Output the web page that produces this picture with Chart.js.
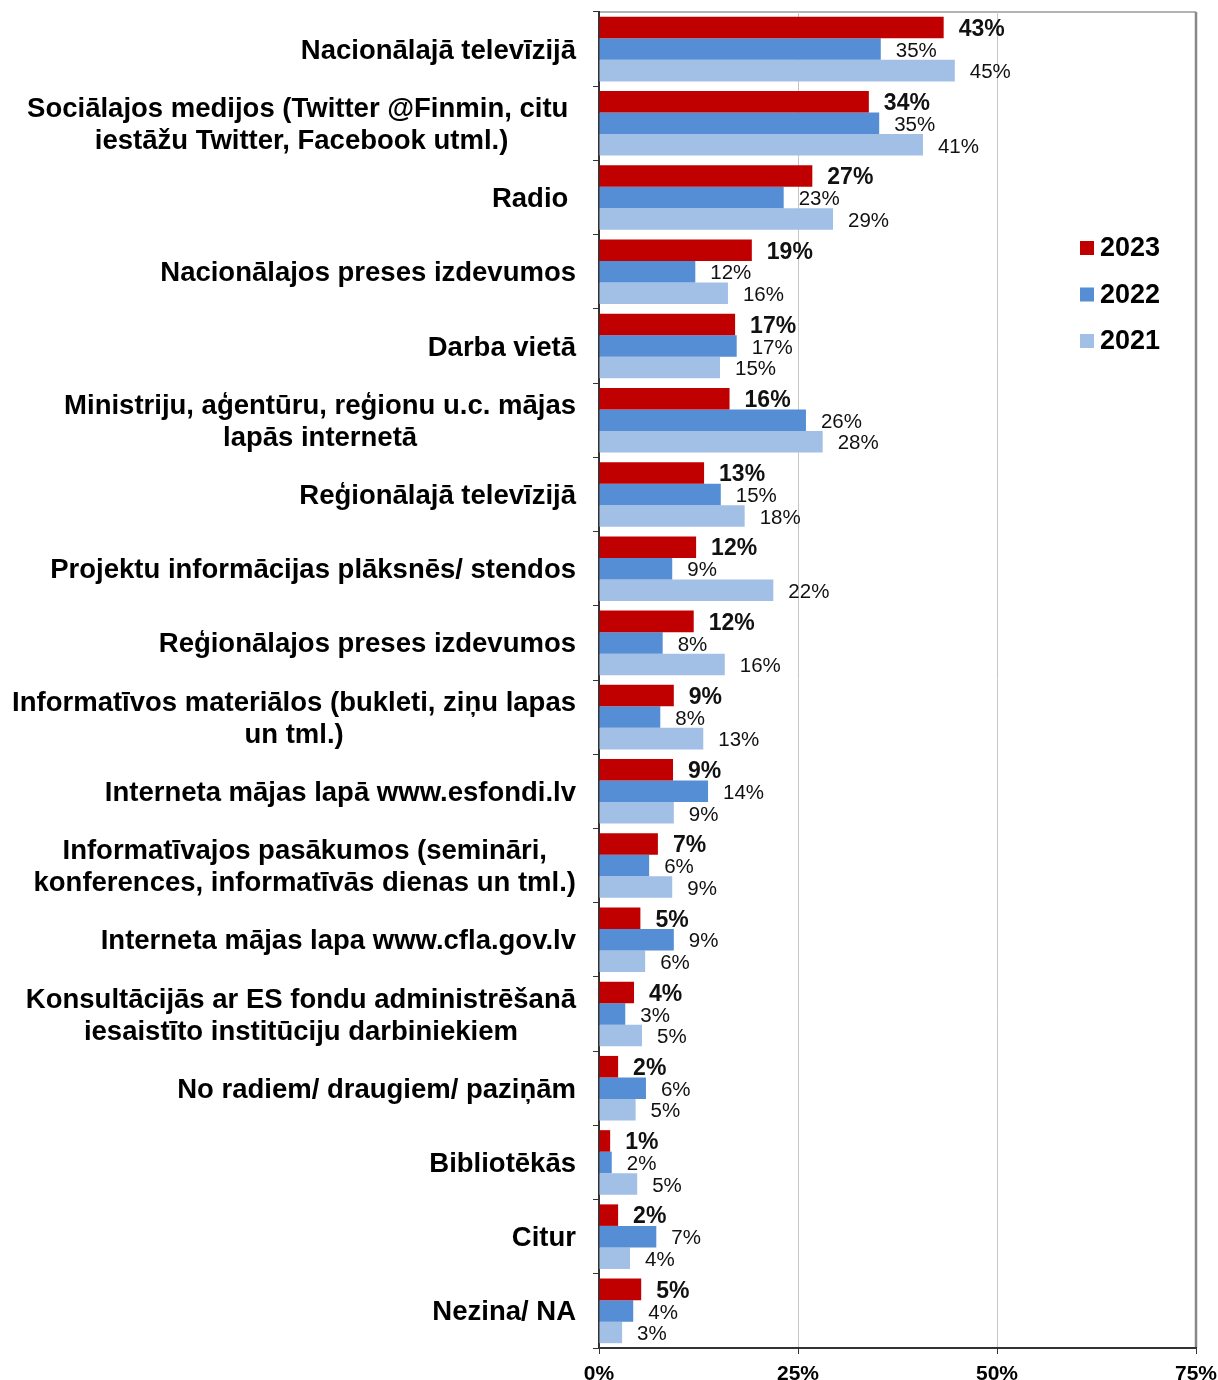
<!DOCTYPE html>
<html>
<head>
<meta charset="utf-8">
<script src="https://cdn.jsdelivr.net/npm/chart.js@4/dist/chart.umd.min.js"></script>
<style>
  html, body { margin: 0; padding: 0; background: #fff; }
  #wrap { width: 1218px; height: 1380px; }
</style>
</head>
<body>
<div id="wrap"><canvas id="chart" width="1218" height="1380"></canvas></div>
<script>
// categories (multi-line ones as arrays)
const categories = [
    'Nacionālajā televīzijā',
    ['Sociālajos medijos (Twitter @Finmin, citu ', 'iestāžu Twitter, Facebook utml.)'],
    'Radio ',
    'Nacionālajos preses izdevumos',
    'Darba vietā',
    ['Ministriju, aģentūru, reģionu u.c. mājas', 'lapās internetā'],
    'Reģionālajā televīzijā',
    'Projektu informācijas plāksnēs/ stendos',
    'Reģionālajos preses izdevumos',
    ['Informatīvos materiālos (bukleti, ziņu lapas', 'un tml.)'],
    'Interneta mājas lapā www.esfondi.lv',
    ['Informatīvajos pasākumos (semināri,', 'konferences, informatīvās dienas un tml.)'],
    'Interneta mājas lapa www.cfla.gov.lv',
    ['Konsultācijās ar ES fondu administrēšanā', 'iesaistīto institūciju darbiniekiem'],
    'No radiem/ draugiem/ paziņām',
    'Bibliotēkās',
    'Citur',
    'Nezina/ NA'
];

const values2023 = [43.3, 33.9, 26.8, 19.2, 17.1, 16.4, 13.2, 12.2, 11.9, 9.4, 9.3, 7.4, 5.2, 4.4, 2.4, 1.4, 2.4, 5.3];
const values2022 = [35.4, 35.2, 23.2, 12.1, 17.3, 26.0, 15.3, 9.2, 8.0, 7.7, 13.7, 6.3, 9.4, 3.3, 5.9, 1.6, 7.2, 4.3];
const values2021 = [44.7, 40.7, 29.4, 16.2, 15.2, 28.1, 18.3, 21.9, 15.8, 13.1, 9.4, 9.2, 5.8, 5.4, 4.6, 4.8, 3.9, 2.9];

const seriesNames = ['2023', '2022', '2021'];
const xTicks = [0, 25, 50, 75];

const FONT = "'Liberation Sans', Arial, sans-serif";

// data labels to the right of every bar; 2023 in bold
const barLabels = {
    id: 'barLabels',
    afterDatasetsDraw(chart) {
        const ctx = chart.ctx;
        ctx.save();
        ctx.fillStyle = '#111';
        ctx.textAlign = 'left';
        ctx.textBaseline = 'middle';
        chart.data.datasets.forEach((ds, di) => {
            const meta = chart.getDatasetMeta(di);
            ctx.font = di === 0 ? `bold 23px ${FONT}` : `20.5px ${FONT}`;
            meta.data.forEach((bar, i) => {
                ctx.fillText(Math.round(ds.data[i]) + '%', bar.x + 15, bar.y + 2);
            });
        });
        ctx.restore();
    }
};

// category labels, lines centered within their block, block right-aligned to the axis
const catLabels = {
    id: 'catLabels',
    afterDraw(chart) {
        const ctx = chart.ctx;
        const y = chart.scales.y;
        const right = chart.chartArea.left - 23;
        ctx.save();
        ctx.font = `bold 27.5px ${FONT}`;
        ctx.fillStyle = '#000';
        ctx.textAlign = 'center';
        ctx.textBaseline = 'middle';
        categories.forEach((c, i) => {
            const lines = Array.isArray(c) ? c : [c];
            const w = Math.max(...lines.map(l => ctx.measureText(l).width));
            const cx = right - w / 2;
            const cy = y.getPixelForValue(i);
            const lh = 32;
            lines.forEach((l, k) => {
                ctx.fillText(l, cx, cy + (k - (lines.length - 1) / 2) * lh + 2);
            });
        });
        ctx.restore();
    }
};

// top / right frame of the plot area
const frame = {
    id: 'frame',
    beforeDraw(chart) {
        const { ctx, chartArea: a } = chart;
        ctx.save();
        ctx.strokeStyle = '#9a9a9a';
        ctx.lineWidth = 1.5;
        ctx.beginPath();
        ctx.moveTo(a.left, a.top);
        ctx.lineTo(a.right, a.top);
        ctx.stroke();
        ctx.strokeStyle = '#888';
        ctx.lineWidth = 2.5;
        ctx.beginPath();
        ctx.moveTo(a.right, a.top);
        ctx.lineTo(a.right, a.bottom);
        ctx.stroke();
        ctx.restore();
    }
};

// legend inside the plot area
const insideLegend = {
    id: 'insideLegend',
    afterDraw(chart) {
        const ctx = chart.ctx;
        const x0 = 1080, y0 = 248, step = 46.5;
        ctx.save();
        ctx.font = `bold 27px ${FONT}`;
        ctx.textAlign = 'left';
        ctx.textBaseline = 'middle';
        chart.data.datasets.forEach((ds, i) => {
            const yy = y0 + i * step;
            ctx.fillStyle = ds.backgroundColor;
            ctx.fillRect(x0, yy - 7, 14, 14);
            ctx.fillStyle = '#000';
            ctx.fillText(ds.label, x0 + 20, yy + 1);
        });
        ctx.restore();
    }
};

new Chart(document.getElementById('chart'), {
    type: 'bar',
    data: {
        labels: categories,
        datasets: [
            { label: seriesNames[0], data: values2023, backgroundColor: '#C00000' },
            { label: seriesNames[1], data: values2022, backgroundColor: '#558ED5' },
            { label: seriesNames[2], data: values2021, backgroundColor: '#A2C0E6' }
        ]
    },
    options: {
        indexAxis: 'y',
        responsive: false,
        animation: false,
        layout: { padding: { top: 12, right: 0, bottom: 0, left: 0 } },
        datasets: {
            bar: { categoryPercentage: 0.87, barPercentage: 1.0 }
        },
        scales: {
            x: {
                min: 0,
                max: 75,
                afterBuildTicks: s => { s.ticks = xTicks.map(v => ({ value: v })); },
                afterFit: s => { s.height = 32; s.paddingRight = 22; s.paddingLeft = 0; },
                ticks: {
                    padding: 8,
                    color: '#000',
                    font: { family: FONT, size: 21, weight: 'bold' },
                    callback: v => v + '%'
                },
                grid: {
                    color: c => c.tick && (c.tick.value === 25 || c.tick.value === 50) ? '#c6c6c6' : 'rgba(0,0,0,0)',
                    lineWidth: 1,
                    drawTicks: true,
                    tickLength: 6,
                    tickColor: '#333'
                },
                border: { color: '#333', width: 2 }
            },
            y: {
                afterFit: s => { s.width = 599; },
                ticks: { display: false },
                grid: {
                    offset: true,
                    drawOnChartArea: false,
                    drawTicks: true,
                    tickLength: 6,
                    tickColor: '#333'
                },
                border: { color: '#333', width: 2 }
            }
        },
        plugins: {
            legend: { display: false },
            tooltip: { enabled: false }
        }
    },
    plugins: [frame, barLabels, catLabels, insideLegend]
});
</script>
</body>
</html>
